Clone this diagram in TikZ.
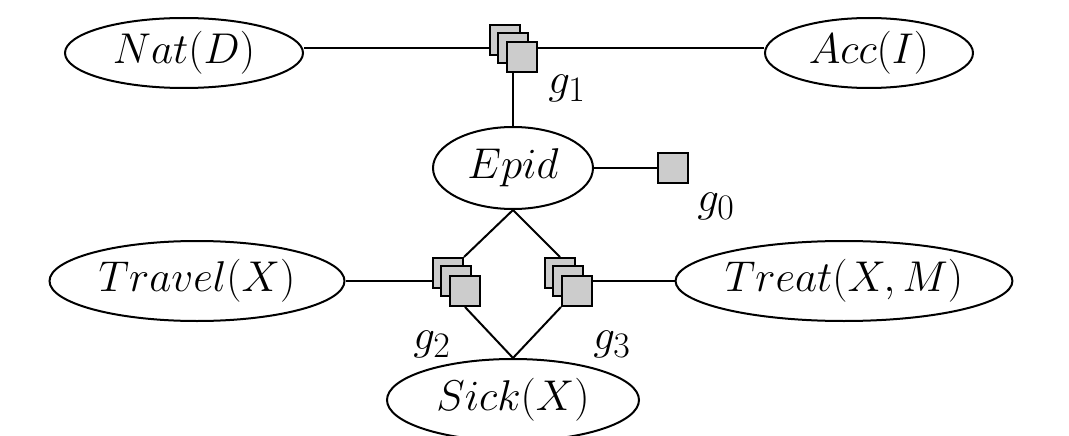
\documentclass[tikz,border=0pt]{standalone}
\usepackage{graphicx}
\usetikzlibrary{backgrounds,shapes.geometric}
\newcommand{\fgtxt}[1]{\scalebox{1.73}{\Huge$#1$}}
\begin{document}
\begin{tikzpicture}[x=1pt,y=-1pt,
  var/.style={draw,ellipse,line width=2pt,inner sep=0pt},
  fac/.style={draw,fill=gray!40,line width=2pt,minimum size=30pt,inner sep=0pt},
  lbl/.style={inner sep=0pt},
  edge/.style={line width=2pt}]
\useasboundingbox (0,0) rectangle (1069,436);
% variables
\node[var,minimum width=238pt,minimum height=70pt] (nat) at (184,53) {\fgtxt{Nat(D)}};
\node[var,minimum width=208pt,minimum height=70pt] (acc) at (869,53) {\fgtxt{Acc(I)}};
\node[var,minimum width=160pt,minimum height=82pt] (epid) at (513,168) {\fgtxt{Epid}};
\node[var,minimum width=295pt,minimum height=80pt] (travel) at (197,281) {\fgtxt{Travel(X)}};
\node[var,minimum width=328pt,minimum height=80pt] (treat) at (844,281) {\fgtxt{Treat(X,M)}};
\node[var,minimum width=252pt,minimum height=82pt] (sick) at (513,400) {\fgtxt{Sick(X)}};
% factors
\node[fac] (g1b) at (505,40) {};
\node[fac] (g1m) at (513,48) {};
\node[fac] (g1f) at (522,57) {};
\node[fac] (g0) at (673,168) {};
\node[fac] (g2b) at (448,273) {};
\node[fac] (g2m) at (456,281) {};
\node[fac] (g2f) at (465,291) {};
\node[fac] (g3b) at (560,273) {};
\node[fac] (g3m) at (568,281) {};
\node[fac] (g3f) at (577,291) {};
% labels
\node[lbl] (l1) at (567,88) {\fgtxt{g_1}};
\node[lbl] (l0) at (716,206) {\fgtxt{g_0}};
\node[lbl] (l2) at (432,344) {\fgtxt{g_2}};
\node[lbl] (l3) at (612,344) {\fgtxt{g_3}};
% connectors
\begin{scope}[on background layer]
\draw[edge] (nat.east |- g1m) -- (g1m);
\draw[edge] (g1m) -- (acc.west |- g1m);
\draw[edge] (epid.north) -- (epid.north |- g1f.south);
\draw[edge] (epid.east) -- (g0.west);
\draw[edge] (travel.east) -- (g2m);
\draw[edge] (g3m) -- (treat.west);
\draw[edge] (epid.south) -- (g2b.north east);
\draw[edge] (epid.south) -- (g3b.north);
\draw[edge] (g2f.south) -- (sick.north);
\draw[edge] (g3f.south west) -- (sick.north);
\end{scope}
\end{tikzpicture}
\end{document}
